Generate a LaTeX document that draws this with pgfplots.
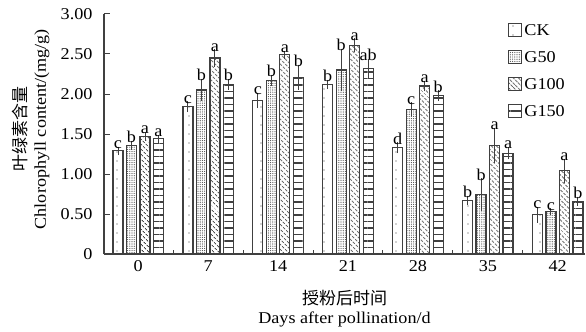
\documentclass[border=0pt]{standalone}
\usepackage{fontspec}
\setmainfont{Liberation Serif}[FakeStretch=1.1]
\newfontfamily\cjk{Noto Sans CJK SC}
\usepackage{pgfplots}
\usepackage{pgfplotstable}
\pgfplotsset{compat=1.18}
\usetikzlibrary{patterns.meta}
\newcommand{\fs}{\fontsize{16.5bp}{19bp}\selectfont}
\definecolor{edge}{HTML}{404040}
% letter raised above the error bar: #1 letter, #2 error (data units, 80bp per unit)
\newcommand{\lab}[2]{\raisebox{#2\dimexpr 80bp\relax}{#1}}

\pgfplotstableread{
x y err lab
0 1.29 0.015 \lab{c}{0.015}
1 1.84 0.03 \lab{c}{0.03}
2 1.92 0.06 \lab{c}{0.06}
3 2.12 0.02 \lab{b}{0.02}
4 1.33 0.03 \lab{d}{0.03}
5 0.67 0.02 \lab{b}{0.02}
6 0.49 0.06 \lab{c}{0.06}
}\ck
\pgfplotstableread{
x y err lab
0 1.36 0.02 \lab{b}{0.02}
1 2.05 0.10 \lab{b}{0.10}
2 2.17 0.03 \lab{b}{0.03}
3 2.30 0.23 \lab{b}{0.23}
4 1.81 0.05 \lab{c}{0.05}
5 0.74 0.17 \lab{b}{0.17}
6 0.53 0.005 \lab{c}{0.005}
}\gfifty
\pgfplotstableread{
x y err lab
0 1.47 0.02 \lab{a}{0.02}
1 2.45 0.07 \lab{a}{0.07}
2 2.49 0.01 \lab{a}{0.01}
3 2.61 0.05 \lab{a}{0.05}
4 2.10 0.03 \lab{a}{0.03}
5 1.36 0.18 \lab{a}{0.18}
6 1.04 0.11 \lab{a}{0.11}
}\ghundred
\pgfplotstableread{
x y err lab
0 1.44 0.01 \lab{a}{0.01}
1 2.12 0.03 \lab{b}{0.03}
2 2.21 0.12 \lab{b}{0.12}
3 2.32 0.08 \lab{ab}{0.08}
4 1.98 0.03 \lab{b}{0.03}
5 1.26 0.04 \lab{a}{0.04}
6 0.66 0.02 \lab{b}{0.02}
}\gonefifty

\pgfplotsset{
  barstyle/.style={draw=edge, line width=1.2bp},
}

\begin{document}
\begin{tikzpicture}
\begin{axis}[
  at={(0,0)}, anchor=south west,
  scale only axis,
  width=481bp, height=240bp,
  xmin=-0.49, xmax=6.39,
  ymin=0, ymax=3,
  ybar=3.5bp, bar width=10bp,
  axis x line*=bottom, axis y line*=left,
  axis line style={edge, line width=1.1bp},
  xtick={0,1,2,3,4,5,6},
  xticklabels={0,7,14,21,28,35,42},
  minor xtick={0.5,1.5,2.5,3.5,4.5,5.5},
  major x tick style={draw=none},
  minor tick length=4bp,
  ytick={0,0.5,1,1.5,2,2.5,3},
  yticklabels={0,0.50,1.00,1.50,2.00,2.50,3.00},
  major tick length=6bp,
  tick align=inside,
  tick style={edge, line width=1bp},
  tick label style={font=\fs, text=black},
  yticklabel style={xshift=-8bp},
  xticklabel style={yshift=-3bp},
  xlabel={{\cjk\fontsize{17bp}{20bp}\selectfont 授粉后时间}\\Days after pollination/d},
  xlabel style={font=\fs, align=center, at={(rel axis cs:0.5,0)}, anchor=north, yshift=-33bp},
  ylabel={{\cjk\fontsize{17bp}{20bp}\selectfont 叶绿素含量}\\Chlorophyll content/(mg/g)},
  ylabel style={font=\fs, align=center, at={(rel axis cs:0,0.52)}, anchor=center, yshift=73bp},
  legend style={at={(rel axis cs:0.840,0.965)}, anchor=north west, draw=none, fill=none,
    font=\fs, row sep=10.5bp, inner sep=0pt, cells={anchor=west}},
  legend image code/.code={\draw[#1,line width=1.2bp] (0bp,-6bp) rectangle (13bp,7bp);},
  point meta=explicit symbolic,
  nodes near coords,
  every node near coord/.append style={font=\fs, text=black, anchor=south, inner sep=0.5bp},
  error bars/y dir=both, error bars/y explicit,
  error bars/error bar style={edge, line width=1bp},
  error bars/error mark options={mark size=3bp, line width=1bp, edge},
]
\addplot[barstyle, fill=white, postaction={pattern={Dots[distance=9bp,radius=0.6bp]}, pattern color=edge}]
  table[x=x, y=y, y error=err, meta=lab]{\ck};
\addlegendentry{CK}
\addplot[barstyle, pattern={Dots[distance=2.2bp,radius=0.6bp]}, pattern color=black!70]
  table[x=x, y=y, y error=err, meta=lab]{\gfifty};
\addlegendentry{G50}
\addplot[barstyle, pattern={Lines[angle=-45,distance=3.6bp,line width=1.1bp]}, pattern color=edge]
  table[x=x, y=y, y error=err, meta=lab]{\ghundred};
\addlegendentry{G100}
\addplot[barstyle, pattern={Lines[angle=0,distance=6.5bp,line width=1.3bp]}, pattern color=edge]
  table[x=x, y=y, y error=err, meta=lab]{\gonefifty};
\addlegendentry{G150}
\end{axis}
\pgfresetboundingbox
\path[use as bounding box] (-104bp,-78bp) rectangle (482bp,254bp);
\end{tikzpicture}
\end{document}
